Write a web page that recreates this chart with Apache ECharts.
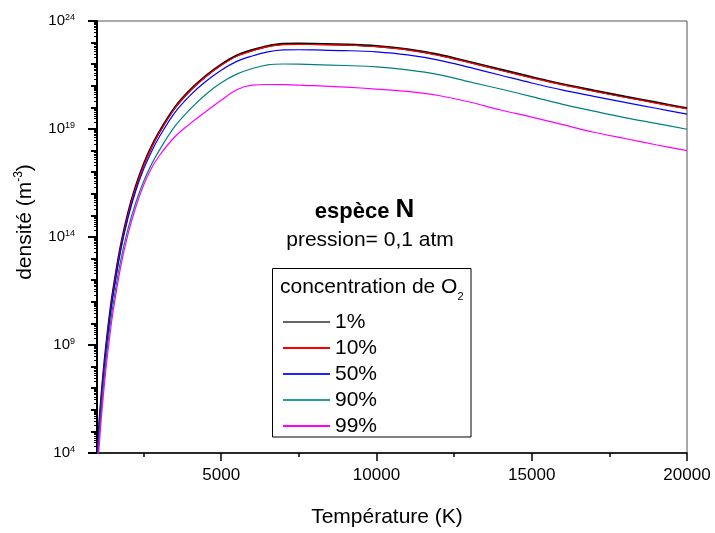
<!DOCTYPE html>
<html><head><meta charset="utf-8">
<script src="https://cdn.jsdelivr.net/npm/echarts@6/dist/echarts.min.js"></script>
<style>html,body{margin:0;padding:0;background:#fff}#c{width:715px;height:533px}</style>
</head><body><div id="c"></div>
<script>
// Temperature (K)
const temperatureK = [1000,1100,1200,1300,1400,1500,1750,2000,2250,2500,2750,3000,3500,4000,4500,5000,5500,6000,6500,7000,7500,8000,9000,10000,11000,12000,13000,14000,15000,16000,17000,18000,19000,20000];
// log10 of density (m^-3), per O2 concentration
const logDensity1pct  = [3.78,5.84,7.55,9.0,10.24,11.32,13.47,15.09,16.34,17.35,18.17,18.85,19.98,20.8,21.45,21.98,22.4,22.65,22.84,22.94,22.95,22.94,22.91,22.84,22.69,22.44,22.1,21.75,21.4,21.07,20.78,20.5,20.23,19.96];
const logDensity10pct = [3.73,5.79,7.5,8.95,10.19,11.27,13.42,15.04,16.29,17.3,18.12,18.81,19.95,20.77,21.42,21.95,22.37,22.62,22.81,22.91,22.92,22.91,22.88,22.81,22.66,22.41,22.07,21.72,21.37,21.04,20.75,20.47,20.2,19.93];
const logDensity50pct = [3.63,5.69,7.4,8.85,10.09,11.16,13.29,14.89,16.14,17.13,17.94,18.62,19.75,20.56,21.2,21.72,22.13,22.38,22.57,22.66,22.67,22.66,22.63,22.57,22.43,22.19,21.85,21.49,21.13,20.8,20.51,20.23,19.96,19.69];
const logDensity90pct = [3.28,5.34,7.03,8.45,9.66,10.72,12.82,14.39,15.6,16.57,17.35,18.0,19.11,19.92,20.6,21.14,21.54,21.8,21.97,22.01,22.0,21.98,21.94,21.88,21.74,21.52,21.18,20.85,20.5,20.14,19.83,19.53,19.26,18.99];
const logDensity99pct = [2.83,4.89,6.6,8.05,9.29,10.37,12.52,14.14,15.39,16.4,17.17,17.75,18.63,19.25,19.8,20.33,20.82,21.03,21.06,21.05,21.03,21.01,20.94,20.85,20.74,20.55,20.25,19.88,19.55,19.2,18.85,18.56,18.27,18.0];
const seriesNames = ['1%','10%','50%','90%','99%'];
const xLabelValues = [5000,10000,15000,20000];
const xMinorTickValues = [2500,7500,12500,17500];
const yLabelExponents = [4,9,14,19,24];

const FONT = '"Liberation Sans", Arial, Helvetica, sans-serif';
const colors = ['#000000','#ff0000','#0000ff','#008080','#ff00ff'];
const legendColors = ['#666666','#ff0000','#2222ff','#2a9a9a','#ff00ff'];
const widths = [2.2,1.2,1.2,1.2,1.2];
const allLogs = [logDensity1pct,logDensity10pct,logDensity50pct,logDensity90pct,logDensity99pct];

const decadeTicks = [];
const subDecadeTicks = [];
for (let n = 4; n < 24; n++) {
  if (n % 5 !== 4) decadeTicks.push(n);
  for (let k = 2; k <= 9; k++) subDecadeTicks.push(n + Math.log10(k));
}

const chart = echarts.init(document.getElementById('c'), null, {renderer:'canvas'});
const series = seriesNames.map((name, i) => ({
  name, type:'line', xAxisIndex:0, yAxisIndex:0,
  data: temperatureK.map((t, j) => [t, allLogs[i][j]]),
  symbol:'none', showSymbol:false, smooth:0.35, clip:true,
  lineStyle:{color:colors[i], width:widths[i]}, itemStyle:{color:colors[i]},
  z: 2 + i
}));

const blackLine = {color:'#000', width:1.5};
chart.setOption({
  animation:false,
  backgroundColor:'#fff',
  textStyle:{fontFamily:FONT},
  grid:{left:97, right:28, top:21, bottom:78, show:true, borderColor:'#555', borderWidth:1, containLabel:false},
  xAxis:[
    {type:'value', min:1000, max:20000, position:'bottom',
     axisLine:{show:true, onZero:false, lineStyle:blackLine},
     axisTick:{show:true, inside:false, length:8, customValues:xLabelValues, lineStyle:blackLine},
     axisLabel:{customValues:xLabelValues, margin:14, fontSize:17, color:'#000', fontFamily:FONT,
       formatter: v => String(v)},
     splitLine:{show:false},
     name:'Température (K)', nameLocation:'middle', nameGap:54,
     nameTextStyle:{fontSize:21, color:'#000', fontFamily:FONT, padding:[0,10,0,0]}},
    {type:'value', min:1000, max:20000, position:'bottom', offset:0,
     axisLine:{show:false, onZero:false},
     axisTick:{show:true, inside:false, length:4, customValues:xMinorTickValues, lineStyle:blackLine},
     axisLabel:{show:false}, splitLine:{show:false}}
  ],
  yAxis:[
    {type:'value', min:4, max:24, position:'left',
     axisLine:{show:true, onZero:false, lineStyle:{color:'#000', width:2}},
     axisTick:{show:true, inside:false, length:9, customValues:yLabelExponents, lineStyle:{color:'#000', width:2}},
     axisLabel:{customValues:yLabelExponents, margin:22, color:'#000',
       formatter: v => '{b|10}{s|' + v + '}',
       rich:{b:{fontSize:15, fontFamily:FONT, color:'#000', lineHeight:16, verticalAlign:'middle'},
             s:{fontSize:9, fontFamily:FONT, color:'#000', lineHeight:9, verticalAlign:'top'}}},
     splitLine:{show:false},
     name:'{n|densité (m}{s|-3}{n|)}', nameLocation:'middle', nameGap:60, nameRotate:90,
     nameTextStyle:{color:'#000', padding:[0,0,0,30], rich:{
       n:{fontSize:21, fontFamily:FONT, color:'#000', lineHeight:24, verticalAlign:'middle'},
       s:{fontSize:12, fontFamily:FONT, color:'#000', lineHeight:12, verticalAlign:'top'}}}},
    {type:'value', min:4, max:24, position:'left', offset:0,
     axisLine:{show:false, onZero:false},
     axisTick:{show:true, inside:false, length:6, customValues:decadeTicks, lineStyle:{color:'#000', width:2}},
     axisLabel:{show:false}, splitLine:{show:false}},
    {type:'value', min:4, max:24, position:'left', offset:0,
     axisLine:{show:false, onZero:false},
     axisTick:{show:true, inside:false, length:3, customValues:subDecadeTicks, lineStyle:{color:'#000', width:1}},
     axisLabel:{show:false}, splitLine:{show:false}}
  ],
  legend:{
    orient:'vertical', left:278, top:306, itemWidth:47, itemHeight:2, itemGap:4, icon:'rect',
    textStyle:{fontSize:21, fontFamily:FONT, color:'#000', lineHeight:22},
    data: seriesNames.map((n, i) => ({name:n, icon:'rect', itemStyle:{color:legendColors[i]}}))
  },
  graphic:[
    {type:'rect', shape:{x:272.5, y:268.5, width:198.5, height:168.5},
     style:{fill:'rgba(0,0,0,0)', stroke:'#000', lineWidth:1}, z:100, silent:true},
    {type:'text', x:280, y:287, z:100, silent:true,
     style:{text:'{t|concentration de O}{u|2}', verticalAlign:'middle', align:'left',
       rich:{t:{fontSize:21, fontFamily:FONT, fill:'#000', lineHeight:30, verticalAlign:'middle'},
             u:{fontSize:11, fontFamily:FONT, fill:'#000', lineHeight:11, verticalAlign:'bottom'}}}},
    {type:'text', x:364.5, y:209, z:100, silent:true,
     style:{text:'{a|espèce }{b|N}', align:'center', verticalAlign:'middle',
       rich:{a:{fontSize:22, fontWeight:'bold', fontFamily:FONT, fill:'#000', lineHeight:28, verticalAlign:'bottom'},
             b:{fontSize:26, fontWeight:'bold', fontFamily:FONT, fill:'#000', lineHeight:28, verticalAlign:'bottom'}}}},
    {type:'text', x:370, y:240, z:100, silent:true,
     style:{text:'pression= 0,1 atm', align:'center', verticalAlign:'middle',
       fontSize:21, fontFamily:FONT, fill:'#000'}}
  ],
  series
});
</script></body></html>
